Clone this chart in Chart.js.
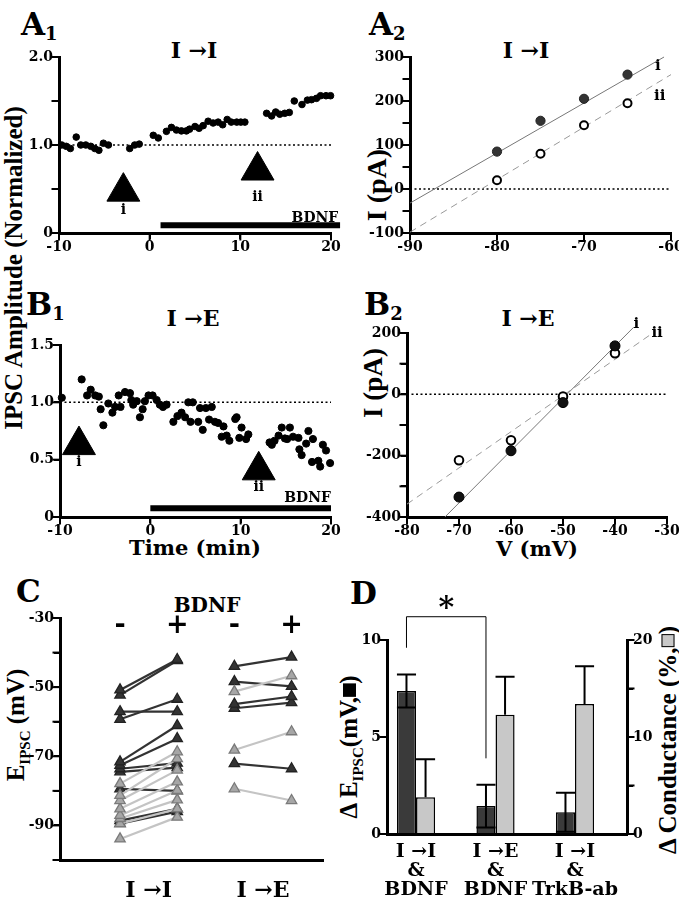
<!DOCTYPE html>
<html>
<head>
<meta charset="utf-8">
<script src="https://cdn.jsdelivr.net/npm/chart.js@4.4.1/dist/chart.umd.min.js"></script>
<style>
  body { margin: 0; background: #fff; }
  #page { position: relative; width: 679px; height: 900px; overflow: hidden;
          font-family: "DejaVu Serif", serif; font-weight: bold; color: #000; }
  canvas { position: absolute; }
  .t { position: absolute; transform: translate(-50%, -50%); white-space: nowrap; line-height: 1; }
  .v { position: absolute; transform: translate(-50%, -50%) rotate(-90deg); white-space: nowrap;
       line-height: 1; font-family: "Liberation Serif", serif; }
  .p { position: absolute; line-height: 1; font-size: 31px; }
  .p span { font-size: 18px; position: relative; top: 5px; }
  .sq { display: inline-block; width: 0.45em; height: 0.45em; border: 1.5px solid #000; vertical-align: 0.05em; }
</style>
</head>
<body>
<div id="page">
  <div class="p" style="left:21px;top:9px">A<span>1</span></div>
  <div class="p" style="left:369px;top:9px">A<span>2</span></div>
  <div class="p" style="left:26px;top:289px">B<span>1</span></div>
  <div class="p" style="left:364px;top:289px">B<span>2</span></div>
  <div class="p" style="left:16px;top:576px">C</div>
  <div class="p" style="left:350px;top:578px">D</div>

  <div class="t" style="left:194px;top:50px;font-size:22px">I →I</div>
  <div class="t" style="left:526px;top:50px;font-size:22px">I →I</div>
  <div class="t" style="left:193px;top:318px;font-size:22px">I →E</div>
  <div class="t" style="left:528px;top:318px;font-size:22px">I →E</div>

  <div class="v" style="left:13px;top:268px;font-size:25px">IPSC Amplitude (Normalized)</div>
  <div class="t" style="left:195px;top:547px;font-size:21px">Time (min)</div>
  <div class="v" style="left:377px;top:185px;font-size:28px">I (pA)</div>
  <div class="v" style="left:373px;top:383px;font-size:27px">I (pA)</div>
  <div class="t" style="left:537px;top:548px;font-size:21px">V (mV)</div>

  <div class="t" style="left:207px;top:605px;font-size:20px">BDNF</div>
  <div class="v" style="left:18px;top:725px;font-size:25px">E<sub style="font-size:15px">IPSC</sub> (mV)</div>
  <div class="v" style="left:351px;top:747px;font-size:25px">Δ E<sub style="font-size:15px">IPSC</sub>(mV,<span class="sq" style="background:#000"></span>)</div>
  <div class="v" style="left:667px;top:740px;font-size:25px">Δ Conductance (%,<span class="sq" style="background:#c8c8c8"></span>)</div>
</div>
<script>
// ---- A1: I→I amplitude over time
const a1Time = [-9.7, -9.2, -8.75, -8.1, -7.6, -7.05, -6.5, -6.05, -5.6, -5.1, -4.55, -2.2, -1.65, -1.15,
  0.4, 0.95, 1.85, 2.4, 2.95, 3.5, 4.05, 4.4, 5.0, 5.45, 5.9, 6.45, 7.0, 7.55, 8.05, 8.55, 9.0, 9.6,
  10.05, 10.5, 12.9, 13.45, 13.9, 14.35, 14.9, 15.4, 15.95, 16.8, 17.4, 17.85, 18.4, 18.85, 19.45, 19.95];
const a1Amp = [1.0, 0.985, 0.96, 1.09, 1.0, 1.0, 0.985, 0.96, 0.94, 1.02, 1.0, 0.96, 1.0, 1.01,
  1.11, 1.08, 1.155, 1.2, 1.17, 1.16, 1.16, 1.18, 1.21, 1.19, 1.22, 1.27, 1.25, 1.26, 1.23, 1.29, 1.26, 1.26,
  1.26, 1.26, 1.36, 1.33, 1.375, 1.35, 1.36, 1.37, 1.5, 1.46, 1.51, 1.515, 1.53, 1.56, 1.56, 1.56];
const a1MarkerTime = [-2.9, 11.9];
const a1MarkerLabels = ['i', 'ii'];
const a1Bdnf = [1.2, 21];

// ---- B1: I→E amplitude over time
const b1Time = [-9.8, -7.6, -7.0, -6.6, -6.1, -5.7, -5.5, -5.2, -4.65, -4.2, -3.9, -3.5, -3.3, -2.8, -2.25,
  -2.1, -1.9, -1.5, -1.15, -0.85, -0.6, -0.2, 0.25, 0.7, 1.05, 1.4, 1.8, 2.55, 3.0, 3.45, 3.85, 4.2, 4.45,
  4.7, 5.3, 5.5, 5.8, 6.15, 6.5, 6.8, 7.15, 7.5, 7.9, 8.1, 8.45, 8.75, 9.4, 9.55, 9.85, 10.1, 10.6, 10.85,
  13.2, 13.45, 13.75, 14.2, 14.55, 14.9, 15.15, 15.45, 15.8, 16.4, 16.5, 16.75, 17.25, 17.5, 17.9, 18.0,
  18.6, 18.8, 19.1, 19.45, 19.9];
const b1Amp = [1.04, 1.2, 1.06, 1.11, 1.06, 1.05, 0.94, 0.8, 0.99, 0.91, 0.96, 1.06, 0.96, 1.09, 1.08,
  1.02, 0.98, 1.01, 0.87, 0.94, 1.01, 1.06, 1.06, 1.02, 0.98, 0.96, 0.98, 0.83, 0.88, 0.91, 0.87, 1.0, 0.83,
  1.0, 0.83, 0.95, 0.76, 0.95, 0.85, 0.96, 0.83, 0.82, 0.70, 0.79, 0.71, 0.665, 0.855, 0.87, 0.69, 0.78, 0.68, 0.72,
  0.65, 0.63, 0.665, 0.71, 0.78, 0.685, 0.68, 0.78, 0.70, 0.69, 0.59, 0.54, 0.64, 0.75, 0.48, 0.68,
  0.49, 0.44, 0.63, 0.58, 0.47];
const b1MarkerTime = [-7.9, 12.0];
const b1MarkerLabels = ['i', 'ii'];
const b1Bdnf = [0, 20];

// ---- A2: I-V, I→I
const a2Voltage = [-80, -75, -70, -65];
const a2CurrentI = [85, 155, 205, 260];
const a2CurrentII = [20, 80, 145, 195];
const a2FitIV = [-90, -60.8], a2FitIC = [-32, 300];
const a2FitIIV = [-90, -60], a2FitIIC = [-98, 260];

// ---- B2: I-V, I→E
const b2Voltage = [-70, -60, -50, -40];
const b2CurrentI = [-335, -184, -27, 158];
const b2CurrentII = [-215, -150, -7, 134];
const b2FitIV = [-72.7, -36.4], b2FitIC = [-400, 219];
const b2FitIIV = [-80, -32.9], b2FitIIC = [-358, 198];

// ---- C: E_IPSC before (-) / after (+) BDNF
const cConditionX = [1, 2, 3, 4];
const cSignLabels = ['-', '+', '-', '+'];
const cGroupLabels = ['I →I', 'I →E'];
const cIIDarkBefore = [-50.8, -52.3, -57.1, -59.3, -71.6, -72.6, -73.6, -74.5, -79.4, -88.6, -89.5];
const cIIDarkAfter = [-42.0, -42.3, -57.1, -53.5, -61.1, -64.9, -72.0, -73.3, -80.0, -85.2, -86.0];
const cIILightBefore = [-77.9, -81.3, -82.8, -85.2, -87.1, -88.0, -89.5, -93.9];
const cIILightAfter = [-68.7, -70.7, -74.0, -77.4, -79.9, -82.6, -85.2, -87.6];
const cIEDarkBefore = [-44.0, -48.4, -54.9, -56.1, -72.1];
const cIEDarkAfter = [-41.3, -49.8, -52.7, -54.5, -73.6];
const cIELightBefore = [-51.3, -68.2, -79.4];
const cIELightAfter = [-46.7, -62.9, -82.8];

// ---- D: summary bars
const dGroups = [['I →I', '&', 'BDNF'], ['I →E', '&', 'BDNF'], ['I →I', '&', 'TrkB-ab']];
const dEipsc = [7.37, 1.44, 1.12];
const dEipscErr = [0.85, 1.1, 1.0];
const dConductance = [3.8, 12.3, 13.4];
const dConductanceErr = [3.9, 3.9, 3.9];
const dSigPair = [0, 1];
const dSigLevels = [11.2, 9.6, 3.9]; // top, left end, right end (mV axis)

Chart.defaults.font.family = '"DejaVu Serif", serif';
Chart.defaults.font.weight = 'bold';
Chart.defaults.color = '#000';
Chart.defaults.animation = false;

const page = document.getElementById('page');
const tickFont = { family: '"DejaVu Serif", serif', weight: 'bold', size: 14 };
const TICK_LEN = 6;

function labelsAt(values, labels) {
  return function (v) {
    const i = values.findIndex((x) => Math.abs(x - v) < 1e-9);
    return i >= 0 ? labels[i] : '';
  };
}

function axis(o) {
  const a = {
    type: 'linear',
    min: o.min,
    max: o.max,
    offset: false,
    border: { display: true, color: '#000', width: 3 },
    grid: { display: !o.noTicks, drawOnChartArea: false, drawTicks: true, tickLength: TICK_LEN, lineWidth: 2,
            color: '#000', tickColor: '#000', tickWidth: 2, offset: false },
    ticks: { stepSize: o.step, autoSkip: false, maxRotation: 0, color: '#000', font: o.font || tickFont,
             padding: o.padding !== undefined ? o.padding : 0, callback: o.callback },
    afterFit: o.afterFit,
  };
  if (o.position) a.position = o.position;
  if (o.afterBuildTicks) a.afterBuildTicks = o.afterBuildTicks;
  return a;
}

// outward tick marks from each scale's own ticks, a bit longer than the built-in ones
const axisTicks = {
  id: 'axisTicks',
  afterDraw(chart) {
    const ctx = chart.ctx;
    ctx.save();
    ctx.strokeStyle = '#000';
    ctx.lineWidth = 2;
    Object.values(chart.scales).forEach((s) => {
      if (!s.options.grid.display) return;
      s.ticks.forEach((t) => {
        const p = s.getPixelForValue(t.value);
        ctx.beginPath();
        if (s.isHorizontal()) {
          ctx.moveTo(p, s.top); ctx.lineTo(p, s.top + TICK_LEN + 1.5);
        } else if (s.position === 'right') {
          ctx.moveTo(s.left, p); ctx.lineTo(s.left + TICK_LEN + 1.5, p);
        } else {
          ctx.moveTo(s.right, p); ctx.lineTo(s.right - TICK_LEN - 1.5, p);
        }
        ctx.stroke();
      });
    });
    ctx.restore();
  },
};

function textMarks(items) {
  return {
    id: 'textMarks',
    afterDatasetsDraw(chart) {
      const { ctx, scales } = chart;
      ctx.save();
      ctx.fillStyle = '#000';
      items.forEach((it) => {
        ctx.font = it.font || 'bold 14px "DejaVu Serif"';
        ctx.textAlign = it.align || 'center';
        ctx.textBaseline = 'middle';
        ctx.fillText(it.text, scales.x.getPixelForValue(it.x), scales.y.getPixelForValue(it.y));
      });
      ctx.restore();
    },
  };
}

function makeChart(area, m, build) {
  const c = document.createElement('canvas');
  const w = area.right - area.left + m.l + m.r;
  const h = area.bottom - area.top + m.t + m.b;
  c.width = w; c.height = h;
  c.style.left = (area.left - m.l) + 'px';
  c.style.top = (area.top - m.t) + 'px';
  c.style.width = w + 'px';
  c.style.height = h + 'px';
  page.appendChild(c);
  const fitX = (s) => { s.height = m.b; };
  const fitY = (s) => { s.width = m.l; };
  const fitY2 = (s) => { s.width = m.r; };
  const cfg = build(fitX, fitY, fitY2);
  cfg.options = Object.assign({
    responsive: false,
    devicePixelRatio: 1,
    animation: false,
    layout: { padding: { top: m.t, right: cfg.twoAxes ? 0 : m.r, left: 0, bottom: 0 } },
  }, cfg.options);
  cfg.options.plugins = Object.assign({ legend: { display: false }, tooltip: { enabled: false } }, cfg.options.plugins || {});
  cfg.plugins = (cfg.plugins || []).concat([axisTicks]);
  return new Chart(c, cfg);
}

const pts = (xs, ys) => xs.map((x, i) => ({ x: x, y: ys[i] }));
const dotted = (x0, x1, y) => ({ data: [{ x: x0, y: y }, { x: x1, y: y }], showLine: true, pointRadius: 0,
  borderColor: '#000', borderWidth: 1.5, borderDash: [2, 2.5], clip: false });

// ---------- A1 ----------
makeChart({ left: 59, right: 331, top: 57, bottom: 233 }, { l: 50, r: 22, t: 20, b: 30 }, (fx, fy) => ({
  type: 'scatter',
  data: {
    datasets: [
      { data: pts(a1Time, a1Amp), pointRadius: 3.3, backgroundColor: '#000', borderColor: '#000', clip: false },
      { data: a1MarkerTime.map((t, i) => ({ x: t, y: [0.47, 0.71][i] })), pointStyle: 'triangle', pointRadius: 19,
        backgroundColor: '#000', borderColor: '#000', clip: false },
      { data: a1Bdnf.map((t) => ({ x: t, y: 0.087 })), showLine: true, pointRadius: 0, borderColor: '#000', borderWidth: 6, clip: false },
      dotted(-10, 20, 1),
    ],
  },
  options: {
    scales: {
      x: axis({ min: -10, max: 20, step: 10, afterFit: fx, callback: labelsAt([-10, 0, 10, 20], ['-10', '0', '10', '20']) }),
      y: axis({ min: 0, max: 2, step: 0.5, afterFit: fy, callback: labelsAt([0, 1, 2], ['0', '1.0', '2.0']) }),
    },
  },
  plugins: [textMarks([
    { x: a1MarkerTime[0], y: 0.26, text: a1MarkerLabels[0] },
    { x: a1MarkerTime[1], y: 0.41, text: a1MarkerLabels[1] },
    { x: 20.8, y: 0.17, text: 'BDNF', align: 'right' },
  ])],
}));

// ---------- B1 ----------
makeChart({ left: 60, right: 331, top: 340, bottom: 517 }, { l: 50, r: 22, t: 15, b: 30 }, (fx, fy) => ({
  type: 'scatter',
  data: {
    datasets: [
      { data: pts(b1Time, b1Amp), pointRadius: 3.6, backgroundColor: '#000', borderColor: '#000', clip: false },
      { data: b1MarkerTime.map((t, i) => ({ x: t, y: [0.627, 0.407][i] })), pointStyle: 'triangle', pointRadius: 19,
        backgroundColor: '#000', borderColor: '#000', clip: false },
      { data: b1Bdnf.map((t) => ({ x: t, y: 0.076 })), showLine: true, pointRadius: 0, borderColor: '#000', borderWidth: 6, clip: false },
      dotted(-10, 20, 1),
    ],
  },
  options: {
    scales: {
      x: axis({ min: -10, max: 20, step: 10, afterFit: fx, callback: labelsAt([-10, 0, 10, 20], ['-10', '0', '10', '20']) }),
      y: axis({ min: 0, max: 1.5, step: 0.5, afterFit: fy, callback: labelsAt([0, 0.5, 1, 1.5], ['0', '0.5', '1.0', '1.5']) }),
    },
  },
  plugins: [textMarks([
    { x: b1MarkerTime[0], y: 0.475, text: b1MarkerLabels[0] },
    { x: b1MarkerTime[1], y: 0.257, text: b1MarkerLabels[1] },
    { x: 20, y: 0.16, text: 'BDNF', align: 'right' },
  ])],
}));

// ---------- A2 ----------
makeChart({ left: 410, right: 671, top: 57, bottom: 233 }, { l: 50, r: 22, t: 20, b: 30 }, (fx, fy) => ({
  type: 'scatter',
  data: {
    datasets: [
      { data: pts(a2Voltage, a2CurrentI), pointRadius: 4.6, backgroundColor: '#333', borderColor: '#222', clip: false },
      { data: pts(a2Voltage, a2CurrentII), pointRadius: 4, backgroundColor: '#fff', borderColor: '#000', borderWidth: 2, clip: false },
      { data: pts(a2FitIV, a2FitIC), showLine: true, pointRadius: 0, borderColor: '#777', borderWidth: 1, clip: false },
      { data: pts(a2FitIIV, a2FitIIC), showLine: true, pointRadius: 0, borderColor: '#999', borderWidth: 1, borderDash: [7, 5], clip: false },
      dotted(-90, -60, 0),
    ],
  },
  options: {
    scales: {
      x: axis({ min: -90, max: -60, step: 10, afterFit: fx, callback: labelsAt([-90, -80, -70, -60], ['-90', '-80', '-70', '-60']) }),
      y: axis({ min: -100, max: 300, step: 50, afterFit: fy,
        callback: labelsAt([-100, 0, 100, 200, 300], ['-100', '0', '100', '200', '300']) }),
    },
  },
  plugins: [textMarks([
    { x: -61.5, y: 279, text: 'i', font: 'bold 15px "DejaVu Serif"' },
    { x: -61.3, y: 210, text: 'ii', font: 'bold 15px "DejaVu Serif"' },
  ])],
}));

// ---------- B2 ----------
makeChart({ left: 407, right: 667, top: 333, bottom: 517 }, { l: 50, r: 22, t: 20, b: 30 }, (fx, fy) => ({
  type: 'scatter',
  data: {
    datasets: [
      { data: pts(b2Voltage, b2CurrentI), pointRadius: 5, backgroundColor: '#111', borderColor: '#000', clip: false },
      { data: pts(b2Voltage, b2CurrentII), pointRadius: 4.3, backgroundColor: '#fff', borderColor: '#000', borderWidth: 2, clip: false },
      { data: pts(b2FitIV, b2FitIC), showLine: true, pointRadius: 0, borderColor: '#777', borderWidth: 1, clip: false },
      { data: pts(b2FitIIV, b2FitIIC), showLine: true, pointRadius: 0, borderColor: '#999', borderWidth: 1, borderDash: [7, 5], clip: false },
      dotted(-80, -30, 0),
    ],
  },
  options: {
    scales: {
      x: axis({ min: -80, max: -30, step: 10, afterFit: fx,
        callback: labelsAt([-80, -70, -60, -50, -40, -30], ['-80', '-70', '-60', '-50', '-40', '-30']) }),
      y: axis({ min: -400, max: 200, step: 100, afterFit: fy,
        callback: labelsAt([-400, -200, 0, 200], ['-400', '-200', '0', '200']) }),
    },
  },
  plugins: [textMarks([
    { x: -35.9, y: 228, text: 'i', font: 'bold 15px "DejaVu Serif"' },
    { x: -31.9, y: 200, text: 'ii', font: 'bold 15px "DejaVu Serif"' },
  ])],
}));

// ---------- C ----------
function pairSets(before, after, xb, xa, dark) {
  return before.map((b, i) => ({
    data: [{ x: xb, y: b }, { x: xa, y: after[i] }],
    showLine: true,
    borderColor: dark ? '#333' : '#c4c4c4',
    borderWidth: 2.2,
    pointStyle: 'triangle',
    pointRadius: 6,
    pointBackgroundColor: dark ? '#333' : '#a6a6a6',
    pointBorderColor: dark ? '#222' : '#7a7a7a',
    pointBorderWidth: 1.3,
    clip: false,
  }));
}
const cCenters = [0, 1].map((g) => (cConditionX[2 * g] + cConditionX[2 * g + 1]) / 2);
makeChart({ left: 60, right: 323, top: 618, bottom: 860 }, { l: 60, r: 20, t: 20, b: 40 }, (fx, fy) => ({
  type: 'scatter',
  data: {
    datasets: [].concat(
      pairSets(cIILightBefore, cIILightAfter, cConditionX[0], cConditionX[1], false),
      pairSets(cIELightBefore, cIELightAfter, cConditionX[2], cConditionX[3], false),
      pairSets(cIIDarkBefore, cIIDarkAfter, cConditionX[0], cConditionX[1], true),
      pairSets(cIEDarkBefore, cIEDarkAfter, cConditionX[2], cConditionX[3], true)
    ),
  },
  options: {
    scales: {
      x: axis({ min: -0.05, max: 4.55, noTicks: true, afterFit: fx, padding: 12,
        font: { family: '"DejaVu Serif", serif', weight: 'bold', size: 22 },
        afterBuildTicks: (s) => { s.ticks = cCenters.map((v) => ({ value: v })); },
        callback: (v, i) => cGroupLabels[i] }),
      y: axis({ min: -100, max: -30, step: 10, afterFit: fy,
        callback: labelsAt([-90, -70, -50, -30], ['-90', '-70', '-50', '-30']) }),
    },
  },
  plugins: [{
    id: 'signs',
    afterDraw(chart) {
      const { ctx, scales, chartArea } = chart;
      ctx.save();
      ctx.fillStyle = '#000';
      ctx.font = 'bold 27px "DejaVu Serif"';
      ctx.textAlign = 'center';
      ctx.textBaseline = 'middle';
      cConditionX.forEach((x, i) => ctx.fillText(cSignLabels[i], scales.x.getPixelForValue(x), chartArea.top + 8));
      ctx.restore();
    },
  }],
}));

// ---------- D ----------
makeChart({ left: 387, right: 627, top: 640, bottom: 834 }, { l: 45, r: 45, t: 55, b: 66 }, (fx, fy, fy2) => ({
  type: 'bar',
  twoAxes: true,
  data: {
    datasets: [
      { data: dEipsc.map((v, i) => ({ x: i, y: v })), yAxisID: 'y', backgroundColor: '#3a3a3a',
        borderColor: '#000', borderWidth: 1.5, categoryPercentage: 0.48, barPercentage: 1 },
      { data: dConductance.map((v, i) => ({ x: i, y: v })), yAxisID: 'y2', backgroundColor: '#c8c8c8',
        borderColor: '#000', borderWidth: 1.5, categoryPercentage: 0.48, barPercentage: 1 },
    ],
  },
  options: {
    scales: {
      x: axis({ min: -0.365, max: 2.654, noTicks: true, afterFit: fx, padding: 3,
        font: { family: '"DejaVu Serif", serif', weight: 'bold', size: 19, lineHeight: 1.0 },
        afterBuildTicks: (s) => { s.ticks = dGroups.map((g, i) => ({ value: i })); },
        callback: (v, i) => dGroups[i] }),
      y: axis({ min: 0, max: 10, step: 5, afterFit: fy, callback: labelsAt([0, 5, 10], ['0', '5', '10']) }),
      y2: axis({ min: 0, max: 20, step: 5, position: 'right', afterFit: fy2,
        callback: labelsAt([0, 10, 20], ['0', '10', '20']) }),
    },
  },
  plugins: [{
    id: 'errorsAndSig',
    afterDatasetsDraw(chart) {
      const ctx = chart.ctx;
      ctx.save();
      ctx.strokeStyle = '#000';
      ctx.lineWidth = 2;
      [[0, dEipscErr, true], [1, dConductanceErr, false]].forEach(([di, errs, both]) => {
        const meta = chart.getDatasetMeta(di);
        const scale = chart.scales[meta.yAxisID];
        const vals = chart.data.datasets[di].data;
        meta.data.forEach((bar, i) => {
          const v = vals[i].y;
          const top = scale.getPixelForValue(v + errs[i]);
          const bottom = both ? scale.getPixelForValue(v - errs[i]) : bar.y;
          const half = bar.width / 2;
          ctx.beginPath();
          ctx.moveTo(bar.x, top); ctx.lineTo(bar.x, bottom);
          ctx.moveTo(bar.x - half, top); ctx.lineTo(bar.x + half, top);
          if (both) { ctx.moveTo(bar.x - half, bottom); ctx.lineTo(bar.x + half, bottom); }
          ctx.stroke();
        });
      });
      // significance bracket
      const m0 = chart.getDatasetMeta(0);
      const y = chart.scales.y;
      const x1 = m0.data[dSigPair[0]].x, x2 = m0.data[dSigPair[1]].x;
      const yt = y.getPixelForValue(dSigLevels[0]);
      ctx.lineWidth = 1;
      ctx.beginPath();
      ctx.moveTo(x1, y.getPixelForValue(dSigLevels[1]));
      ctx.lineTo(x1, yt);
      ctx.lineTo(x2, yt);
      ctx.lineTo(x2, y.getPixelForValue(dSigLevels[2]));
      ctx.stroke();
      ctx.fillStyle = '#000';
      ctx.font = 'bold 30px "DejaVu Serif"';
      ctx.textAlign = 'center';
      ctx.textBaseline = 'middle';
      ctx.fillText('*', (x1 + x2) / 2, yt - 8);
      ctx.restore();
    },
  }],
}));
</script>
</body>
</html>
